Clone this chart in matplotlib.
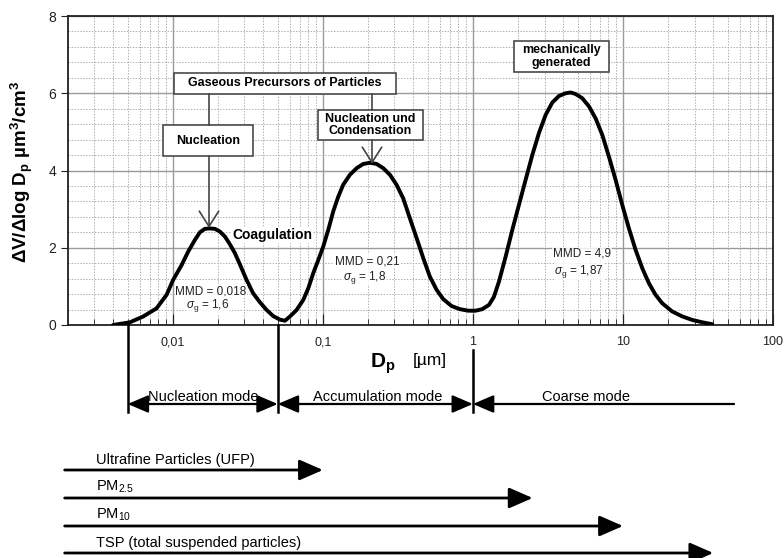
import numpy as np
import matplotlib
matplotlib.use('Agg')
import matplotlib.pyplot as plt
import matplotlib.transforms as mtransforms
from matplotlib.patches import Rectangle, FancyArrowPatch
from matplotlib.lines import Line2D
from matplotlib.ticker import LogLocator, MultipleLocator, NullFormatter

plt.rcParams['font.family'] = ['Liberation Sans', 'DejaVu Sans']
plt.rcParams['mathtext.fontset'] = 'custom'
plt.rcParams['mathtext.rm'] = 'Liberation Sans'
plt.rcParams['mathtext.it'] = 'Liberation Sans:italic'
plt.rcParams['mathtext.bf'] = 'Liberation Sans:bold'

# volume size distribution (Dp in um, dV/dlogDp in um3/cm3)
dp = [0.0040, 0.00517, 0.00634, 0.00778, 0.00908, 0.01005, 0.01143, 0.01265, 0.01401,
      0.01514, 0.01634, 0.01765, 0.01905, 0.02057, 0.02222, 0.0240, 0.02591, 0.02797,
      0.03097, 0.03429, 0.03802, 0.04214, 0.04667, 0.05167, 0.05581, 0.0603, 0.0668,
      0.0740, 0.0799, 0.0862, 0.0931, 0.1005, 0.1085, 0.1172, 0.1265, 0.1365, 0.1514,
      0.1678, 0.1858, 0.2057, 0.228, 0.2524, 0.2797, 0.3097, 0.3429, 0.3802, 0.4214,
      0.4667, 0.5167, 0.5728, 0.6339, 0.7211, 0.8192, 0.9311, 1.042, 1.153, 1.279,
      1.380, 1.490, 1.652, 1.829, 2.026, 2.245, 2.487, 2.754, 3.052, 3.381, 3.745,
      4.149, 4.478, 4.838, 5.358, 5.934, 6.572, 7.28, 8.06, 8.93, 9.89, 10.96, 12.15,
      13.45, 14.9, 16.5, 18.3, 21.3, 24.9, 29.0, 33.8, 39.4]
dv = [0.0, 0.07, 0.22, 0.43, 0.78, 1.17, 1.55, 1.90, 2.20,
      2.40, 2.49, 2.50, 2.49, 2.42, 2.29, 2.09, 1.86, 1.57,
      1.17, 0.82, 0.59, 0.39, 0.23, 0.14, 0.11, 0.22, 0.39,
      0.65, 0.95, 1.34, 1.68, 2.03, 2.46, 2.94, 3.32, 3.63, 3.89,
      4.06, 4.17, 4.20, 4.17, 4.06, 3.89, 3.63, 3.28, 2.76, 2.25,
      1.73, 1.25, 0.91, 0.67, 0.49, 0.41, 0.37, 0.37, 0.41, 0.52,
      0.73, 1.12, 1.77, 2.46, 3.11, 3.76, 4.40, 4.97, 5.44, 5.76, 5.93,
      6.00, 6.02, 5.98, 5.87, 5.66, 5.35, 4.92, 4.36, 3.76, 3.11, 2.50, 1.94,
      1.47, 1.08, 0.78, 0.56, 0.35, 0.22, 0.13, 0.07, 0.02]

xtick_vals = [0.01, 0.1, 1, 10, 100]
xtick_labels = ['0,01', '0,1', '1', '10', '100']
ytick_vals = [0, 2, 4, 6, 8]

mode_edges = [0.005, 0.05, 1.0, 55]
mode_names = ['Nucleation mode', 'Accumulation mode', 'Coarse mode']
class_names = ['Ultrafine Particles (UFP)', 'PM$_{2.5}$', 'PM$_{10}$',
               'TSP (total suspended particles)']
class_upper = [0.1, 2.5, 10, 40]

W, H = 784, 558
fig = plt.figure(figsize=(W / 100, H / 100), dpi=100)
pix = mtransforms.Affine2D().scale(1, -1).translate(0, H)

ax = fig.add_axes([68 / W, 1 - 325 / H, (773 - 68) / W, (325 - 16) / H])
ax.plot(dp, dv, color='black', lw=2.8, solid_joinstyle='round',
        solid_capstyle='round', zorder=4)
ax.set_xscale('log')
ax.set_xlim(0.002, 100)
ax.set_ylim(0, 8)

ax.set_xticks(xtick_vals)
ax.set_xticklabels(xtick_labels)
ax.xaxis.set_minor_locator(LogLocator(base=10, subs=np.arange(2, 10)))
ax.xaxis.set_minor_formatter(NullFormatter())
ax.set_yticks(ytick_vals)
ax.yaxis.set_minor_locator(MultipleLocator(0.4))
ax.grid(which='major', color='#9a9a9a', lw=1.0)
ax.grid(which='minor', color='#b0b0b0', lw=0.7, ls=(0, (1.5, 1.5)))
ax.set_axisbelow(True)
ax.tick_params(axis='x', which='both', direction='in', labelsize=9, pad=8, colors='#222')
ax.tick_params(axis='x', which='major', length=8)
ax.tick_params(axis='x', which='minor', length=4)
ax.tick_params(axis='y', which='major', direction='out', length=5, labelsize=10, colors='#222')
ax.tick_params(axis='y', which='minor', length=0)
for s in ax.spines.values():
    s.set_color('#222')
    s.set_linewidth(1.3)

# axis titles
fig.text(22, 172, r'ΔV/Δlog D$_\mathbf{p}$ µm$^\mathbf{3}$/cm$^\mathbf{3}$', transform=pix,
         rotation=90, ha='center', va='center', fontsize=13.5, fontweight='bold')
fig.text(370, 364, r'D$_\mathbf{p}$', transform=pix, ha='left', va='center',
         fontsize=15, fontweight='bold')
fig.text(413, 360, '[µm]', transform=pix, ha='left', va='center', fontsize=12.5)


def box(x0, y0, x1, y1, text):
    ax.add_patch(Rectangle((x0, y0), x1 - x0, y1 - y0, transform=pix, fc='white',
                           ec='#4a4a4a', lw=1.2, zorder=5, clip_on=False))
    ax.text((x0 + x1) / 2, (y0 + y1) / 2, text, transform=pix, ha='center',
            va='center', fontsize=9, fontweight='bold', zorder=6, linespacing=1.05)


def seg(x0, y0, x1, y1, **kw):
    ax.add_line(Line2D([x0, x1], [y0, y1], transform=pix, clip_on=False, **kw))


box(174, 73, 396, 94, 'Gaseous Precursors of Particles')
box(163, 125, 253, 156, 'Nucleation')
box(318, 110, 423, 140, 'Nucleation und\nCondensation')
box(514, 41, 609, 72, 'mechanically\ngenerated')
seg(209, 94, 209, 125, color='#444', lw=1.2, zorder=5)
seg(372, 94, 372, 110, color='#444', lw=1.2, zorder=5)
for x, y0, y1 in [(209, 156, 228), (372, 140, 164)]:
    ax.add_patch(FancyArrowPatch((x, y0), (x, y1), transform=pix,
                                 arrowstyle='->,head_length=0.55,head_width=0.35',
                                 mutation_scale=20, color='#444', lw=1.2,
                                 shrinkA=0, shrinkB=0, zorder=6, clip_on=False))

ax.text(232, 235, 'Coagulation', transform=pix, ha='left', va='center',
        fontsize=10, fontweight='bold', zorder=6,
        bbox=dict(boxstyle='square,pad=0.1', fc='white', ec='none'))

mmd_txt = [('MMD = 0,018', 211, 291), (r'$\sigma_\mathrm{g}$ = 1,6', 208, 305),
           ('MMD = 0,21', 367, 261), (r'$\sigma_\mathrm{g}$ = 1,8', 365, 277),
           ('MMD = 4,9', 582, 254), (r'$\sigma_\mathrm{g}$ = 1,87', 579, 271)]
for t, x, y in mmd_txt:
    ax.text(x, y, t, transform=pix, ha='center', va='center', fontsize=8.5,
            color='#222', zorder=6,
            bbox=dict(boxstyle='square,pad=0.05', fc='white', ec='none', alpha=0.8))

# lower part: x in micrometres, y in pixels
bt = mtransforms.blended_transform_factory(ax.transData, pix)

for e, ytop in zip(mode_edges[:3], [325, 325, 350]):
    fig.add_artist(Line2D([e, e], [ytop, 412], transform=bt, color='black', lw=1.8))

for i, name in enumerate(mode_names):
    style = '<|-|>' if i < 2 else '<|-'
    fig.add_artist(FancyArrowPatch((mode_edges[i], 404), (mode_edges[i + 1], 404),
                                   transform=bt,
                                   arrowstyle=style + ',head_length=0.7,head_width=0.3',
                                   mutation_scale=18, color='black', lw=1.6,
                                   shrinkA=0, shrinkB=0))
label_x = [203, 378, 586]
for name, x in zip(mode_names, label_x):
    fig.text(x, 404, name, transform=pix, ha='center', va='bottom', fontsize=10.5)

class_y = [470, 498, 526, 553]
for name, up, y in zip(class_names, class_upper, class_y):
    fig.add_artist(FancyArrowPatch((0.0019, y), (up, y), transform=bt,
                                   arrowstyle='-|>,head_length=0.8,head_width=0.35',
                                   mutation_scale=18, color='black', lw=2.0,
                                   shrinkA=0, shrinkB=0))
    fig.text(96, y - 3, name, transform=pix, ha='left', va='bottom', fontsize=10.5)

fig.savefig('out.png', dpi=100)
